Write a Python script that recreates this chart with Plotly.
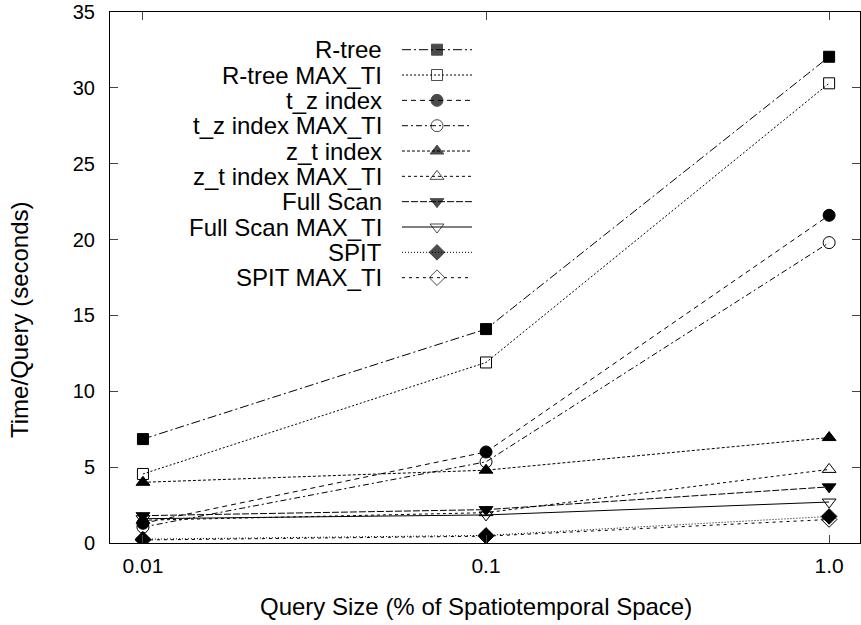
import plotly.graph_objects as go

query_sizes = [0.01, 0.1, 1.0]
x_tick_labels = ["0.01", "0.1", "1.0"]

series_names = ["R-tree", "R-tree MAX_TI", "t_z index", "t_z index MAX_TI",
                "z_t index", "z_t index MAX_TI", "Full Scan", "Full Scan MAX_TI",
                "SPIT", "SPIT MAX_TI"]

rtree = [6.85, 14.1, 32.05]
rtree_maxti = [4.55, 11.9, 30.3]
tz_index = [1.3, 6.0, 21.6]
tz_index_maxti = [1.05, 5.35, 19.8]
zt_index = [4.0, 4.8, 6.95]
zt_index_maxti = [1.5, 2.0, 4.85]
full_scan = [1.8, 2.2, 3.7]
full_scan_maxti = [1.6, 1.85, 2.7]
spit = [0.25, 0.5, 1.75]
spit_maxti = [0.2, 0.45, 1.55]

values = [rtree, rtree_maxti, tz_index, tz_index_maxti, zt_index,
          zt_index_maxti, full_scan, full_scan_maxti, spit, spit_maxti]

symbols = ["square", "square-open", "circle", "circle-open", "triangle-up",
           "triangle-up-open", "triangle-down", "triangle-down-open",
           "diamond", "diamond-open"]
sizes = [11, 11, 12, 12, 12, 12, 12, 12, 12, 12]
dashes = ["9px,3px,2px,3px", "2px,2px", "5px,4px", "6px,3px,2px,3px",
          "3px,2px", "3px,3px", "7px,2px", "solid", "1px,2px", "3px,4px"]

FONT = "Liberation Sans, Arial, sans-serif"
fig = go.Figure()

for name, vals, sym, sz, dash in zip(series_names, values, symbols, sizes, dashes):
    fig.add_trace(go.Scatter(
        x=query_sizes, y=vals, name=name, mode="lines+markers",
        line=dict(color="black", width=1, dash=dash),
        marker=dict(symbol=sym, size=sz, color="black",
                    line=dict(color="black", width=1)),
        showlegend=False))

# custom legend (text on the left, sample on the right), gnuplot style
leg_top = 0.929
leg_step = 0.0477
x_text = 0.3653
x_l, x_m, x_r = 0.3893, 0.436, 0.4827
for i, (name, sym, sz, dash) in enumerate(zip(series_names, symbols, sizes, dashes)):
    yy = leg_top - i * leg_step
    fig.add_trace(go.Scatter(
        x=[x_l, x_m, x_r], y=[yy, yy, yy], mode="lines+markers",
        xaxis="x2", yaxis="y2", showlegend=False, hoverinfo="skip",
        line=dict(color="black", width=1, dash=dash),
        marker=dict(symbol=sym, size=[0, sz, 0], color="black",
                    line=dict(color="black", width=1))))
    fig.add_annotation(x=x_text, y=yy, xref="paper", yref="paper",
                       text=name, showarrow=False, xanchor="right",
                       yanchor="middle", font=dict(size=24, color="black", family=FONT))

# axis titles
fig.add_annotation(x=0.488, y=-0.1205, xref="paper", yref="paper",
                   text="Query Size (% of Spatiotemporal Space)", showarrow=False,
                   xanchor="center", yanchor="middle",
                   font=dict(size=24, color="black", family=FONT))
fig.add_annotation(x=-0.12, y=0.42, xref="paper", yref="paper",
                   text="Time/Query (seconds)", showarrow=False, textangle=-90,
                   xanchor="center", yanchor="middle",
                   font=dict(size=24, color="black", family=FONT))

fig.update_layout(
    width=861, height=625,
    margin=dict(l=110, r=1, t=12, b=82),
    paper_bgcolor="white", plot_bgcolor="white",
    font=dict(family=FONT, size=20, color="black"),
    showlegend=False,
    xaxis=dict(type="log", range=[-2.096, 0.090], tickvals=query_sizes,
               ticktext=x_tick_labels, ticks="inside", ticklen=8,
               showline=True, linecolor="black", linewidth=1, mirror="ticks",
               showgrid=False, zeroline=False, ticklabelstandoff=4,
               tickfont=dict(size=21)),
    yaxis=dict(range=[0, 35], dtick=5, ticks="inside", ticklen=8,
               showline=True, linecolor="black", linewidth=1, mirror="ticks",
               showgrid=False, zeroline=False, ticklabelstandoff=10,
               tickfont=dict(size=20)),
    xaxis2=dict(domain=[0, 1], range=[0, 1], anchor="y2", overlaying="x",
                visible=False, fixedrange=True),
    yaxis2=dict(domain=[0, 1], range=[0, 1], anchor="x2", overlaying="y",
                visible=False, fixedrange=True),
)

fig.write_html("out.html")
